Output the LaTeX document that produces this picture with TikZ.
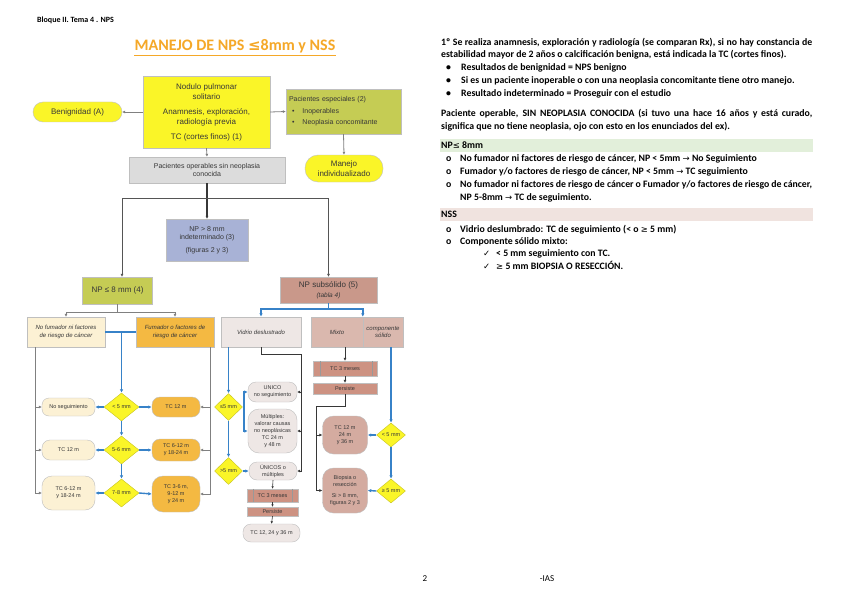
\documentclass[tikz,border=0pt]{standalone}
\usepackage{fontspec}
\setmainfont{Carlito}
\newfontfamily\fcf{Liberation Sans}
\newfontfamily\symf{DejaVu Sans}
\usetikzlibrary{shapes.geometric,arrows.meta}
\definecolor{cyel}{RGB}{250,245,40}
\definecolor{colive}{RGB}{197,204,84}
\definecolor{cgray}{RGB}{220,220,220}
\definecolor{clav}{RGB}{168,178,214}
\definecolor{crose}{RGB}{201,152,138}
\definecolor{ccream}{RGB}{252,241,212}
\definecolor{corange}{RGB}{244,185,66}
\definecolor{cpale}{RGB}{238,231,229}
\definecolor{cmix}{RGB}{218,184,174}
\definecolor{crosetwo}{RGB}{212,171,160}
\definecolor{crosethree}{RGB}{205,146,130}
\definecolor{cblue}{RGB}{55,130,200}
\definecolor{cline}{RGB}{128,128,128}
\definecolor{cdark}{RGB}{55,55,55}
\definecolor{ctitle}{RGB}{245,168,40}
\definecolor{cbarg}{RGB}{226,239,218}
\definecolor{cbarr}{RGB}{240,227,223}
\definecolor{ctext}{RGB}{55,55,55}
\newcommand{\symsz}[1]{{\symf\mdseries\fontsize{8.5}{10}\selectfont #1}}
\begin{document}
\begin{tikzpicture}[x=1pt,y=-1pt,
 fc/.style={font=\fcf\fontsize{6}{7}\selectfont, text=ctext, align=center, inner sep=1pt, draw=black!25, line width=0.4pt},
 fbig/.style={font=\fcf\fontsize{8}{10}\selectfont},
 fmid/.style={font=\fcf\fontsize{7}{8.5}\selectfont},
 fsm/.style={font=\fcf\fontsize{5.5}{6.8}\selectfont},
 fit/.style={font=\fcf\itshape\fontsize{6}{7.5}\selectfont},
 dia/.style={fc, shape=diamond, fill=cyel, draw=cyel!80!black, inner sep=0pt, fsm},
 gl/.style={draw=cline, line width=0.8pt},
 ga/.style={gl, -{Latex[length=3pt,width=3pt]}},
 bl/.style={draw=cblue, line width=1.4pt},
 ba/.style={bl, -{Latex[length=3.5pt,width=3.5pt]}},
 kl/.style={draw=cdark, line width=1pt},
 ka/.style={kl, -{Latex[length=3pt,width=3pt]}},
 ta/.style={draw=cdark, line width=0.6pt, -{Latex[length=2.5pt,width=2.5pt]}},
 txt/.style={font=\bfseries\fontsize{9.8}{11}\selectfont, anchor=base west, inner sep=0pt, text=black},
]
\useasboundingbox (0,0) rectangle (848,599);
\fill[white] (0,0) rectangle (848,599);

% header and title
\node[font=\bfseries\fontsize{8}{9}\selectfont, anchor=base west, inner sep=0pt] (hdr) at (37,23) {Bloque II. Tema 4 . NPS};
\node[font=\bfseries\fontsize{16}{18}\selectfont, text=ctitle, inner sep=0pt] (title) at (235,46) {MANEJO DE NPS {\symf\fontsize{15}{18}\selectfont ≤}8mm y NSS};
\draw[ctitle, line width=0.8pt] ([yshift=-2.5pt]title.south west) -- ([yshift=-2.5pt]title.south east);

% top of flowchart
\node[fc,fbig,fill=cyel,minimum width=127pt,minimum height=72pt] (nps) at (206.5,112) {Nodulo pulmonar\\solitario\\[5pt]Anamnesis, exploración,\\radiología previa\\[5pt]TC (cortes finos) (1)};
\node[fc,fbig,fill=cyel,rounded corners=10pt,minimum width=89pt,minimum height=20pt] (ben) at (77.5,112) {Benignidad (A)};
\node[fc,fmid,fill=colive,minimum width=115pt,minimum height=45pt,align=left,text width=109pt] (pesp) at (343.5,111.5) {Pacientes especiales (2)\\[3pt]\hspace*{3pt}\textbullet\hspace{8pt}Inoperables\\[3pt]\hspace*{3pt}\textbullet\hspace{8pt}Neoplasia concomitante};
\node[fc,fbig,fill=cyel,rounded corners=13pt,minimum width=78pt,minimum height=27pt] (man) at (344,168.5) {Manejo\\individualizado};
\node[fc,fmid,fill=cgray,minimum width=156pt,minimum height=26pt] (oper) at (207,170) {Pacientes operables sin neoplasia\\conocida};
\node[fc,fmid,fill=clav,minimum width=82pt,minimum height=42pt] (ind) at (207,240) {NP > 8 mm\\indeterminado (3)\\[4pt](figuras 2 y 3)};
\node[fc,fbig,fill=colive,minimum width=70pt,minimum height=27pt] (npl) at (117.5,290.5) {NP ≤ 8 mm (4)};
\node[fc,fbig,fill=crose,minimum width=97pt,minimum height=26pt] (nss) at (328.5,290) {NP subsólido (5)\\{\itshape\fontsize{6.5}{7}\selectfont (tabla 4)}};

\draw[ga] (nps.west) -- (ben.east);
\draw[ga] (nps.east) -- (pesp.west);
\draw[ga] (pesp.south) -- (man.north);
\draw[ga] (nps.south) -- (oper.north);
\draw[ka, line width=1.5pt] (oper.south) -- (ind.north);
\coordinate (jl) at (122,198);
\coordinate (jr) at (328.5,198);
\draw[kl, draw=cdark!85] (jl) -- (jr);
\draw[ka, draw=cdark!85] (jl) -- (jl |- npl.north);
\draw[ka, draw=cdark!85] (jr) -- (jr |- nss.north);

% left branch
\node[fc,fit,fill=ccream,minimum width=78pt,minimum height=30pt] (nof) at (66,332) {No fumador ni factores\\de riesgo de cáncer};
\node[fc,fit,fill=corange,minimum width=78pt,minimum height=30pt] (fum) at (175,332) {Fumador o factores de\\riesgo de cáncer};
\coordinate (lj) at (117.5,312);
\draw[gl] (npl.south) -- (lj);
\draw[ga] (lj) -| (nof.north);
\draw[ga] (lj) -| (fum.north);

\node[fc,fsm,fill=ccream,rounded corners=7pt,minimum width=53pt,minimum height=18pt] (n1) at (68.5,407) {No seguimiento};
\node[fc,fsm,fill=ccream,rounded corners=8pt,minimum width=53pt,minimum height=20pt] (n2) at (68.5,450) {TC 12 m};
\node[fc,fsm,fill=ccream,rounded corners=10pt,minimum width=53pt,minimum height=34pt] (n3) at (68.5,493) {TC 6-12 m\\y 18-24 m};
\node[fc,fsm,fill=corange,rounded corners=8pt,minimum width=48pt,minimum height=20pt] (o1) at (176,407) {TC 12 m};
\node[fc,fsm,fill=corange,rounded corners=8pt,minimum width=48pt,minimum height=22pt] (o2) at (176,450) {TC 6-12 m\\y 18-24 m};
\node[fc,fsm,fill=corange,rounded corners=11pt,minimum width=48pt,minimum height=36pt] (o3) at (176,494) {TC 3-6 m,\\9-12 m\\y 24 m};
\node[dia,minimum width=35pt,minimum height=28pt] (d1) at (121.5,407) {< 5 mm};
\node[dia,minimum width=35pt,minimum height=28pt] (d2) at (121.5,450) {5-6 mm};
\node[dia,minimum width=35pt,minimum height=28pt] (d3) at (121.5,493) {7-8 mm};

\coordinate (bj) at (121.5,332);
\draw[bl] (nof.east) -- (fum.west);
\draw[ba] (bj) -- (d1.north);
\draw[ba] (d1.south) -- (d2.north);
\draw[ba] (d2.south) -- (d3.north);
\draw[ba] (d1.west) -- (n1.east);
\draw[ba] (d2.west) -- (n2.east);
\draw[ba] (d3.west) -- (n3.east);
\draw[ba] (d1.east) -- (o1.west);
\draw[ba] (d2.east) -- (o2.west);
\draw[ba] (d3.east) -- (o3.west);

\coordinate (gl0) at (35,347);
\coordinate (gr0) at (210,347);
\draw[ga] (gl0) |- (n3.west);
\draw[ga] (gl0 |- n1.west) -- (n1.west);
\draw[ga] (gl0 |- n2.west) -- (n2.west);
\draw[ga] (gr0) |- (o3.east);
\draw[ga] (gr0 |- o1.east) -- (o1.east);
\draw[ga] (gr0 |- o2.east) -- (o2.east);

% right branch
\node[fc,fit,fill=cpale,minimum width=80pt,minimum height=30pt] (vid) at (261,332) {Vidrio deslustrado};
\node[fc,fit,fill=cmix,minimum width=52pt,minimum height=30pt] (mixA) at (337,332) {Mixto};
\node[fc,fit,fill=cmix,minimum width=40pt,minimum height=30pt] (mixB) at (383,332) {componente\\sólido};
\coordinate (rj) at (328.5,309);
\draw[bl] (nss.south) -- (rj);
\draw[ba] (rj) -| (vid.north);
\draw[ba] (rj) -| (mixB.north west);

\node[dia,minimum width=28pt,minimum height=27pt] (dv1) at (228.5,407) {≤5 mm};
\node[dia,minimum width=28pt,minimum height=27pt] (dv2) at (228.5,471) {>5 mm};
\node[fc,fsm,fill=cpale,rounded corners=8pt,minimum width=49pt,minimum height=20pt] (uni) at (272.5,392) {UNICO\\no seguimiento};
\node[fc,fsm,fill=cpale,rounded corners=11pt,minimum width=49pt,minimum height=44pt] (mul) at (272.5,431) {Múltiples:\\valorar causas\\no neoplásicas\\TC 24 m\\y 48 m};
\node[fc,fsm,fill=cpale,rounded corners=8pt,minimum width=48pt,minimum height=18pt] (unm) at (273,471) {ÚNICOS o\\múltiples};
\node[fc,fsm,fill=crosethree,minimum width=51pt,minimum height=13pt] (tca) at (272.5,495.5) {TC 3 meses};
\node[fc,fsm,fill=crosethree,minimum width=51pt,minimum height=9pt] (pera) at (272.5,511.5) {Persiste};
\node[fc,fsm,fill=cpale,rounded corners=8pt,minimum width=57pt,minimum height=18pt] (tcf) at (271.5,533) {TC 12, 24 y 36 m};
\draw[black!40,line width=0.4pt] ([xshift=6pt]tca.north west) -- ([xshift=6pt]tca.south west);
\draw[black!40,line width=0.4pt] ([xshift=-6pt]tca.north east) -- ([xshift=-6pt]tca.south east);

\coordinate (vb) at (244,407);
\draw[ba] (dv1 |- vid.south) -- (dv1.north);
\draw[ba] (dv1.south) -- (dv2.north);
\draw[bl] (dv1.east) -- (vb);
\draw[ba] (vb) |- (uni.west);
\draw[ba] (vb) |- (mul.west);
\draw[ba] (dv2.east) -- (unm.west);
\coordinate (k1) at (301,354);
\draw[kl] (vid.south) |- (k1);
\draw[ka] (k1) |- (unm.east);
\draw[ka] (k1 |- uni.east) -- (uni.east);
\draw[ka] (k1 |- mul.east) -- (mul.east);
\draw[ta] (unm.south) -- (tca.north);
\draw[ta] (tca.south) -- (pera.north);
\draw[ta] (pera.south) -- (tcf.north);

\node[fc,fsm,fill=crosethree,minimum width=64pt,minimum height=15pt] (tcb) at (345,368.5) {TC 3 meses};
\node[fc,fsm,fill=crosethree,minimum width=64pt,minimum height=11pt] (perb) at (345,388.5) {Persiste};
\draw[black!40,line width=0.4pt] ([xshift=7pt]tcb.north west) -- ([xshift=7pt]tcb.south west);
\draw[black!40,line width=0.4pt] ([xshift=-5pt]tcb.north east) -- ([xshift=-5pt]tcb.south east);
\node[fc,fsm,fill=crosetwo,rounded corners=11pt,minimum width=45pt,minimum height=38pt] (tcm) at (345,435) {TC 12 m\\24 m\\y 36 m};
\node[fc,fsm,fill=crosetwo,rounded corners=11pt,minimum width=45pt,minimum height=45pt] (bio) at (345,490.5) {Biopsia o\\resección\\[4pt]Si > 8 mm,\\figuras 2 y 3};
\node[dia,minimum width=29pt,minimum height=24pt] (dm1) at (391,435) {< 5 mm};
\node[dia,minimum width=29pt,minimum height=24pt] (dm2) at (391,491) {≥ 5 mm};

\draw[ka] (tcb.north |- mixA.south) -- (tcb.north);
\draw[ka] (tcb.south) -- (perb.north);
\coordinate (m1) at (316,406);
\draw[kl] (perb.south) |- (m1);
\draw[ka] (m1) |- (bio.west);
\draw[ka] (m1 |- tcm.west) -- (tcm.west);
\draw[ba] (dm1 |- mixB.south) -- (dm1.north);
\draw[ba] (dm1.south) -- (dm2.north);
\draw[ba] (dm1.west) -- (tcm.east);
\draw[ba] (dm2.west) -- (bio.east);

% right column text
\node[txt] (p1) at (441,45.5) {\makebox[371pt][s]{1º Se realiza anamnesis, exploración y radiología (se comparan Rx), si no hay constancia de}};
\node[txt] (p2) at (441,58) {estabilidad mayor de 2 años o calcificación benigna, está indicada la TC (cortes finos).};
\node[txt] (b1d) at (446,71) {•};
\node[txt] (b1) at (461,71) {Resultados de benignidad = NPS benigno};
\node[txt] (b2d) at (446,84) {•};
\node[txt] (b2) at (461,84) {Si es un paciente inoperable o con una neoplasia concomitante tiene otro manejo.};
\node[txt] (b3d) at (446,97) {•};
\node[txt] (b3) at (461,97) {Resultado indeterminado = Proseguir con el estudio};
\node[txt] (p3) at (441,117) {\makebox[371pt][s]{Paciente operable, SIN NEOPLASIA CONOCIDA (si tuvo una hace 16 años y está curado,}};
\node[txt] (p4) at (441,130) {significa que no tiene neoplasia, ojo con esto en los enunciados del ex).};

\fill[cbarg] (440,139) rectangle (813,152);
\node[txt] (h1) at (441,148.5) {NP\symsz{≤} 8mm};
\node[txt] (i1d) at (446,161) {o};
\node[txt] (i1) at (460,161) {No fumador ni factores de riesgo de cáncer, NP < 5mm \symsz{→} No Seguimiento};
\node[txt] (i2d) at (446,174) {o};
\node[txt] (i2) at (460,174) {Fumador y/o factores de riesgo de cáncer, NP < 5mm \symsz{→} TC seguimiento};
\node[txt] (i3d) at (446,187) {o};
\node[txt] (i3) at (460,187) {\makebox[352pt][s]{No fumador ni factores de riesgo de cáncer o Fumador y/o factores de riesgo de cáncer,}};
\node[txt] (i3b) at (460,200) {NP 5-8mm \symsz{→} TC de seguimiento.};

\fill[cbarr] (440,208) rectangle (813,221);
\node[txt] (h2) at (441,217.5) {NSS};
\node[txt] (j1d) at (446,232) {o};
\node[txt] (j1) at (460,232) {Vidrio deslumbrado: TC de seguimiento (< o \symsz{≥} 5 mm)};
\node[txt] (j2d) at (446,244) {o};
\node[txt] (j2) at (460,244) {Componente sólido mixto:};
\node[txt] (k1d) at (483,256) {\symsz{✓}};
\node[txt] (k1t) at (496,256) {< 5 mm seguimiento con TC.};
\node[txt] (k2d) at (483,269) {\symsz{✓}};
\node[txt] (k2t) at (496,269) {\symsz{≥} 5 mm BIOPSIA O RESECCIÓN.};

% footer
\node[font=\fontsize{9}{10}\selectfont, inner sep=0pt] (pg) at (425,579) {2};
\node[font=\fontsize{9}{10}\selectfont, inner sep=0pt] (ias) at (547,579) {-IAS};
\end{tikzpicture}
\end{document}
